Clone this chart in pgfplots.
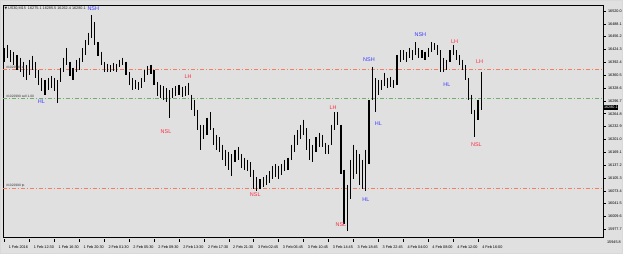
\documentclass[border=0pt]{standalone}
\usepackage{fontspec}
\setmainfont{Liberation Sans}
\newfontfamily\dejavu{DejaVu Sans}
\usepackage{pgfplots}
\pgfplotsset{compat=1.18}
\definecolor{bg}{RGB}{224,224,224}
\definecolor{upblue}{RGB}{60,60,255}
\definecolor{dnred}{RGB}{255,45,70}
\definecolor{slorange}{RGB}{245,125,95}
\definecolor{opgreen}{RGB}{110,175,110}

\begin{document}
\begin{tikzpicture}
\fill[bg] (0bp,0bp) rectangle (625bp,254bp);
\draw[white!85!black, line width=0.5bp] (0.25bp,0.25bp) rectangle (624.75bp,253.75bp);
\begin{axis}[
  at={(3bp,16bp)}, anchor=south west,
  scale only axis, width=602bp, height=233bp,
  xmin=-1, xmax=384.3, ymin=15958.2, ymax=16534.8,
  axis line style={black, line width=0.7bp},
  clip=false,
  scaled y ticks=false, scaled x ticks=false,
  xtick={0,16,...,304},
  xticklabels={1 Feb 2016,1 Feb 12:30,1 Feb 16:30,1 Feb 20:30,2 Feb 01:30,2 Feb 05:30,2 Feb 09:30,2 Feb 13:30,2 Feb 17:30,2 Feb 21:30,3 Feb 02:45,3 Feb 06:45,3 Feb 10:45,3 Feb 14:45,3 Feb 18:45,3 Feb 22:45,4 Feb 04:00,4 Feb 08:00,4 Feb 12:00,4 Feb 16:00},
  xtick pos=bottom,
  xticklabel style={anchor=north west, font=\fontsize{3.8}{4}\selectfont, xshift=0.8bp, yshift=-3bp},
  ytick={15977.7,16009.6,16041.5,16073.4,16105.3,16137.2,16169.1,16201.0,16232.9,16264.8,16296.7,16328.6,16360.5,16392.4,16424.3,16456.2,16488.1,16520.0},
  ytick pos=right, yticklabel pos=right,
  yticklabel style={font=\fontsize{3.8}{4}\selectfont, anchor=west, xshift=-1bp,
    /pgf/number format/fixed, /pgf/number format/precision=1,
    /pgf/number format/fixed zerofill, /pgf/number format/1000 sep={},
    /pgf/number format/assume math mode=true},
  tick align=outside, major tick length=2.5bp,
  x tick style={black, line width=0.5bp, yshift=-2bp},
  y tick style={black, line width=0.5bp},
  unbounded coords=jump,
]
% order lines
\addplot[slorange, line width=0.7bp, dash pattern=on 4bp off 2bp on 1bp off 2bp] coordinates {(-1,16374) (384.3,16374)};
\addplot[opgreen, line width=0.7bp, dash pattern=on 4bp off 2bp on 1bp off 2bp] coordinates {(-1,16302) (384.3,16302)};
\addplot[slorange, line width=0.7bp, dash pattern=on 4bp off 2bp on 1bp off 2bp] coordinates {(-1,16079) (384.3,16079)};
% price bars: (index, high) (index, low), nan breaks
\addplot[black, line width=1.15bp, mark=none] coordinates {
(0,16428)(0,16394)(0,nan) (2,16436)(2,16404)(2,nan) (4,16423)(4,16394)(4,nan) (6,16419)(6,16386)(6,nan)
(8,16411)(8,16374)(8,nan) (10,16404)(10,16369)(10,nan) (12,16394)(12,16357)(12,nan) (14,16386)(14,16349)(14,nan)
(16,16399)(16,16362)(16,nan) (18,16409)(18,16374)(18,nan) (20,16394)(20,16354)(20,nan) (22,16374)(22,16337)(22,nan)
(24,16354)(24,16320)(24,nan) (26,16349)(26,16312)(26,nan) (28,16354)(28,16324)(28,nan) (30,16359)(30,16329)(30,nan)
(32,16354)(32,16320)(32,nan) (34,16349)(34,16292)(34,nan) (36,16379)(36,16344)(36,nan) (38,16404)(38,16369)(38,nan)
(40,16428)(40,16386)(40,nan) (42,16394)(42,16359)(42,nan) (44,16379)(44,16349)(44,nan) (46,16399)(46,16369)(46,nan)
(48,16404)(48,16374)(48,nan) (50,16428)(50,16394)(50,nan) (52,16448)(52,16411)(52,nan) (54,16466)(54,16436)(54,nan)
(56,16510)(56,16453)(56,nan) (58,16493)(58,16436)(58,nan) (60,16443)(60,16409)(60,nan) (62,16419)(62,16386)(62,nan)
(64,16394)(64,16369)(64,nan) (66,16389)(66,16369)(66,nan) (68,16386)(68,16369)(68,nan) (70,16391)(70,16372)(70,nan)
(72,16389)(72,16369)(72,nan) (74,16399)(74,16381)(74,nan) (76,16404)(76,16386)(76,nan) (78,16394)(78,16362)(78,nan)
(80,16369)(80,16337)(80,nan) (82,16354)(82,16324)(82,nan) (84,16349)(84,16327)(84,nan) (86,16344)(86,16324)(86,nan)
(88,16354)(88,16329)(88,nan) (90,16374)(90,16344)(90,nan) (92,16384)(92,16362)(92,nan) (94,16386)(94,16364)(94,nan)
(96,16374)(96,16337)(96,nan) (98,16344)(98,16310)(98,nan) (100,16337)(100,16305)(100,nan) (102,16334)(102,16300)(102,nan)
(104,16329)(104,16295)(104,nan) (106,16324)(106,16255)(106,nan) (108,16329)(108,16305)(108,nan) (110,16334)(110,16310)(110,nan)
(112,16337)(112,16312)(112,nan) (114,16332)(114,16307)(114,nan) (116,16334)(116,16310)(116,nan) (118,16342)(118,16312)(118,nan)
(120,16312)(120,16275)(120,nan) (122,16300)(122,16258)(122,nan) (124,16275)(124,16225)(124,nan) (126,16238)(126,16176)(126,nan)
(128,16238)(128,16201)(128,nan) (130,16255)(130,16213)(130,nan) (132,16268)(132,16225)(132,nan) (134,16230)(134,16188)(134,nan)
(136,16213)(136,16176)(136,nan) (138,16206)(138,16171)(138,nan) (140,16188)(140,16151)(140,nan) (142,16176)(142,16134)(142,nan)
(144,16171)(144,16126)(144,nan) (146,16164)(146,16109)(146,nan) (148,16176)(148,16146)(148,nan) (150,16181)(150,16151)(150,nan)
(152,16164)(152,16131)(152,nan) (154,16156)(154,16126)(154,nan) (156,16151)(156,16122)(156,nan) (158,16144)(158,16107)(158,nan)
(160,16126)(160,16077)(160,nan) (162,16107)(162,16072)(162,nan) (164,16102)(164,16077)(164,nan) (166,16107)(166,16082)(166,nan)
(168,16112)(168,16087)(168,nan) (170,16122)(170,16092)(170,nan) (172,16136)(172,16102)(172,nan) (174,16139)(174,16107)(174,nan)
(176,16136)(176,16102)(176,nan) (178,16139)(178,16112)(178,nan) (180,16151)(180,16122)(180,nan) (182,16156)(182,16126)(182,nan)
(184,16188)(184,16151)(184,nan) (186,16213)(186,16171)(186,nan) (188,16225)(188,16188)(188,nan) (190,16238)(190,16201)(190,nan)
(192,16250)(192,16213)(192,nan) (194,16230)(194,16176)(194,nan) (196,16201)(196,16151)(196,nan) (198,16188)(198,16146)(198,nan)
(200,16206)(200,16171)(200,nan) (202,16218)(202,16181)(202,nan) (204,16213)(204,16183)(204,nan) (206,16193)(206,16164)(206,nan)
(208,16188)(208,16164)(208,nan) (210,16238)(210,16188)(210,nan) (212,16268)(212,16225)(212,nan) (214,16270)(214,16238)(214,nan)
(216,16238)(216,16114)(216,nan) (218,16126)(218,15990)(218,nan) (220,16089)(220,15973)(220,nan) (222,16151)(222,16052)(222,nan)
(224,16188)(224,16102)(224,nan) (226,16176)(226,16114)(226,nan) (228,16164)(228,16089)(228,nan) (230,16151)(230,16077)(230,nan)
(232,16176)(232,16072)(232,nan) (234,16300)(234,16139)(234,nan) (236,16381)(236,16300)(236,nan) (238,16354)(238,16270)(238,nan)
(240,16349)(240,16312)(240,nan) (242,16349)(242,16324)(242,nan) (244,16367)(244,16334)(244,nan) (246,16354)(246,16329)(246,nan)
(248,16357)(248,16332)(248,nan) (250,16349)(250,16329)(250,nan) (252,16411)(252,16337)(252,nan) (254,16423)(254,16394)(254,nan)
(256,16423)(256,16399)(256,nan) (258,16419)(258,16394)(258,nan) (260,16428)(260,16404)(260,nan) (262,16423)(262,16399)(262,nan)
(264,16443)(264,16411)(264,nan) (266,16428)(266,16404)(266,nan) (268,16423)(268,16404)(268,nan) (270,16419)(270,16399)(270,nan)
(272,16428)(272,16406)(272,nan) (274,16443)(274,16419)(274,nan) (276,16441)(276,16423)(276,nan) (278,16436)(278,16411)(278,nan)
(280,16423)(280,16369)(280,nan) (282,16404)(282,16369)(282,nan) (284,16399)(284,16374)(284,nan) (286,16423)(286,16394)(286,nan)
(288,16436)(288,16411)(288,nan) (290,16423)(290,16399)(290,nan) (292,16411)(292,16386)(292,nan) (294,16399)(294,16374)(294,nan)
(296,16386)(296,16349)(296,nan) (298,16354)(298,16300)(298,nan) (300,16312)(300,16263)(300,nan) (302,16275)(302,16206)(302,nan)
(304,16300)(304,16250)(304,nan) (306,16369)(306,16275)
};
% labels
\node[text=upblue, font=\fontsize{5.5}{6}\selectfont, inner sep=0pt] at (axis cs:57,16525) {NSH};
\node[text=upblue, font=\fontsize{5.5}{6}\selectfont, inner sep=0pt] at (axis cs:23.7,16295) {HL};
\node[text=dnred, font=\fontsize{5.5}{6}\selectfont, inner sep=0pt] at (axis cs:117.8,16357) {LH};
\node[text=dnred, font=\fontsize{5.5}{6}\selectfont, inner sep=0pt] at (axis cs:103.7,16220) {NSL};
\node[text=dnred, font=\fontsize{5.5}{6}\selectfont, inner sep=0pt] at (axis cs:161,16065) {NSL};
\node[text=dnred, font=\fontsize{5.5}{6}\selectfont, inner sep=0pt] at (axis cs:211,16280) {LH};
\node[text=dnred, font=\fontsize{5.5}{6}\selectfont, inner sep=0pt] at (axis cs:216,15990) {NSL};
\node[text=upblue, font=\fontsize{5.5}{6}\selectfont, inner sep=0pt] at (axis cs:232,16052) {HL};
\node[text=upblue, font=\fontsize{5.5}{6}\selectfont, inner sep=0pt] at (axis cs:234,16399) {NSH};
\node[text=upblue, font=\fontsize{5.5}{6}\selectfont, inner sep=0pt] at (axis cs:240,16240) {HL};
\node[text=upblue, font=\fontsize{5.5}{6}\selectfont, inner sep=0pt] at (axis cs:267,16461) {NSH};
\node[text=dnred, font=\fontsize{5.5}{6}\selectfont, inner sep=0pt] at (axis cs:289,16443) {LH};
\node[text=upblue, font=\fontsize{5.5}{6}\selectfont, inner sep=0pt] at (axis cs:284,16337) {HL};
\node[text=dnred, font=\fontsize{5.5}{6}\selectfont, inner sep=0pt] at (axis cs:305,16394) {LH};
\node[text=dnred, font=\fontsize{5.5}{6}\selectfont, inner sep=0pt] at (axis cs:303,16188) {NSL};
\node[font=\fontsize{3.3}{4}\selectfont, inner sep=0pt, anchor=south west, text=black!80] at (axis cs:1,16376) {\#1022990 sl};
\node[font=\fontsize{3.3}{4}\selectfont, inner sep=0pt, anchor=south west, text=black!80] at (axis cs:1,16304) {\#1022990 sell 1.00};
\node[font=\fontsize{3.3}{4}\selectfont, inner sep=0pt, anchor=south west, text=black!80] at (axis cs:1,16081) {\#1022990 tp};
% header
\node[anchor=west, font=\fontsize{3.8}{4}\selectfont, inner sep=0pt, text=black!85] at (axis cs:0,16526) {{\dejavu\fontsize{3.5}{4}\selectfont ▼}\,US30,M15\ \ 16275.1 16285.5 16262.4 16280.1};
% current price tag
\node[anchor=west, fill=black, text=white, font=\fontsize{3.8}{4}\selectfont, inner sep=0.8bp] at (axis cs:384.3,16280) {16280.1};
% lowest scale label below frame
\node[anchor=west, font=\fontsize{3.8}{4}\selectfont, inner sep=0pt] at (axis cs:386.8,15945.8) {15945.8};
\end{axis}
\end{tikzpicture}
\end{document}
